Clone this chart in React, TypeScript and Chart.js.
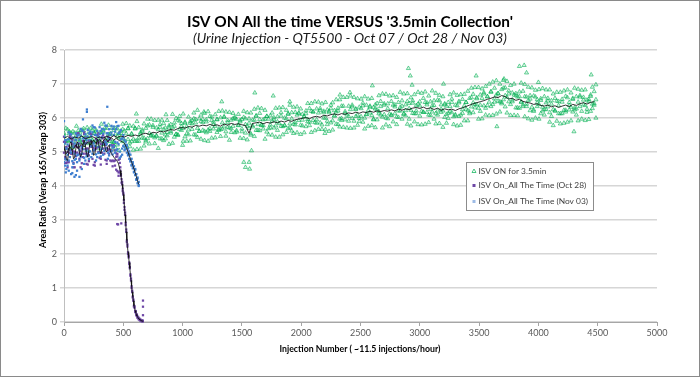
import React, { useEffect, useRef } from "react";
import { Chart, registerables } from "chart.js";
Chart.register(...registerables);

const TITLE = "ISV ON All the time VERSUS '3.5min Collection'";
const SUBTITLE = "(Urine Injection - QT5500 - Oct 07 / Oct 28 / Nov 03)";
const Y_TITLE = "Area Ratio (Verap 165/Verap 303)";
const X_TITLE = "Injection Number ( ~11.5 injections/hour)";
const LEGEND_LABELS = ["ISV ON for 3.5min", "ISV On_All The Time (Oct 28)", "ISV On_All The Time (Nov 03)"];

const X_MIN = 0, X_MAX = 5000, X_STEP = 500;
const Y_MIN = 0, Y_MAX = 8, Y_STEP = 1;

// ---- Series 1: ISV ON for 3.5min (green triangles) ----
const greenX = [
  0,30,60,90,120,150,180,210,240,270,
  300,330,360,390,420,450,480,510,540,570,
  600,630,660,690,720,750,780,810,840,870,
  900,930,960,990,1020,1050,1080,1110,1140,1170,
  1200,1230,1260,1290,1320,1350,1380,1410,1440,1470,
  1500,1530,1560,1590,1620,1650,1680,1710,1740,1770,
  1800,1830,1860,1890,1920,1950,1980,2010,2040,2070,
  2100,2130,2160,2190,2220,2250,2280,2310,2340,2370,
  2400,2430,2460,2490,2520,2550,2580,2610,2640,2670,
  2700,2730,2760,2790,2820,2850,2880,2910,2940,2970,
  3000,3030,3060,3090,3120,3150,3180,3210,3240,3270,
  3300,3330,3360,3390,3420,3450,3480,3510,3540,3570,
  3600,3630,3660,3690,3720,3750,3780,3810,3840,3870,
  3900,3930,3960,3990,4020,4050,4080,4110,4140,4170,
  4200,4230,4260,4290,4320,4350,4380,4410,4440,4470
];
const greenXb = [
  15,45,75,105,135,165,195,225,255,285,
  315,345,375,405,435,465,495,525,555,585,
  615,645,675,705,735,765,795,825,855,885,
  915,945,975,1005,1035,1065,1095,1125,1155,1185,
  1215,1245,1275,1305,1335,1365,1395,1425,1455,1485,
  1515,1545,1575,1605,1635,1665,1695,1725,1755,1785,
  1815,1845,1875,1905,1935,1965,1995,2025,2055,2085,
  2115,2145,2175,2205,2235,2265,2295,2325,2355,2385,
  2415,2445,2475,2505,2535,2565,2595,2625,2655,2685,
  2715,2745,2775,2805,2835,2865,2895,2925,2955,2985,
  3015,3045,3075,3105,3135,3165,3195,3225,3255,3285,
  3315,3345,3375,3405,3435,3465,3495,3525,3555,3585,
  3615,3645,3675,3705,3735,3765,3795,3825,3855,3885,
  3915,3945,3975,4005,4035,4065,4095,4125,4155,4185,
  4215,4245,4275,4305,4335,4365,4395,4425,4455,4485
];
const greenA = [
  5.55,5.34,5.43,5.24,5.63,5.42,5.49,5.25,5.65,5.32,
  5.36,5.63,5.31,5.52,5.28,5.68,5.42,5.62,5.37,5.52,
  5.70,5.32,5.61,5.30,5.80,5.48,5.71,5.39,5.84,5.58,
  5.56,5.86,5.51,5.84,5.45,6.03,5.67,5.96,5.61,5.87,
  5.95,5.69,5.88,5.58,6.01,5.74,5.93,5.58,6.03,5.79,
  5.68,5.98,5.70,5.94,5.64,6.14,5.78,6.05,5.71,5.95,
  6.04,5.76,6.00,5.69,6.16,5.87,6.13,5.77,6.21,5.88,
  5.93,6.27,5.86,6.20,5.81,6.38,6.06,6.29,5.99,6.19,
  6.35,5.99,6.27,5.90,6.44,6.10,6.35,5.95,6.43,6.09,
  6.10,6.42,6.08,6.33,6.02,6.51,6.22,6.43,6.14,6.37,
  6.48,6.17,6.39,6.08,6.51,6.21,6.39,6.02,6.46,6.16,
  6.10,6.49,6.14,6.46,6.13,6.70,6.39,6.68,6.36,6.63,
  6.78,6.47,6.72,6.42,6.89,6.48,6.74,6.30,6.77,6.39,
  6.34,6.66,6.24,6.54,6.13,6.63,6.33,6.51,6.21,6.37,
  6.55,6.23,6.46,6.18,6.63,6.34,6.61,6.17,6.68,6.38
];
const greenB = [
  5.26,5.66,5.35,5.56,5.19,5.64,5.29,5.48,5.27,5.65,
  5.56,5.23,5.70,5.32,5.64,5.21,5.55,5.19,5.69,5.31,
  5.32,5.72,5.41,5.70,5.24,5.78,5.48,5.73,5.34,5.93,
  5.81,5.44,5.94,5.64,5.88,5.51,5.83,5.50,5.98,5.64,
  5.57,6.05,5.68,5.96,5.46,6.04,5.73,5.94,5.57,6.11,
  5.96,5.56,5.98,5.78,6.06,5.63,5.95,5.59,6.07,5.71,
  5.64,6.16,5.78,6.11,5.62,6.17,5.93,6.11,5.75,6.28,
  6.18,5.85,6.28,6.00,6.24,5.86,6.22,5.81,6.35,5.95,
  5.91,6.38,6.05,6.32,5.88,6.38,6.15,6.31,5.95,6.49,
  6.38,5.98,6.49,6.13,6.46,5.97,6.39,5.97,6.51,6.13,
  6.06,6.58,6.17,6.48,5.97,6.53,6.17,6.39,5.99,6.56,
  6.38,6.05,6.55,6.26,6.58,6.16,6.57,6.20,6.75,6.37,
  6.34,6.88,6.50,6.84,6.33,6.80,6.53,6.66,6.29,6.79,
  6.62,6.22,6.65,6.34,6.57,6.09,6.50,6.05,6.58,6.13,
  6.13,6.64,6.24,6.58,6.09,6.66,6.39,6.53,6.20,6.78
];
const greenC = [
  5.70,5.13,5.60,5.36,5.56,5.19,5.72,5.41,5.55,5.10,
  5.12,5.71,5.41,5.70,5.12,5.55,5.82,5.14,5.77,5.06,
  5.90,5.09,5.83,5.40,5.97,5.25,5.94,5.56,5.71,5.23,
  5.26,5.99,5.67,6.12,5.32,5.90,6.15,5.43,6.09,5.34,
  6.19,5.41,6.10,5.68,6.21,5.47,6.17,5.76,5.96,5.41,
  6.20,5.36,6.15,5.46,6.30,5.78,6.23,5.51,6.15,5.44,
  5.44,6.31,5.58,6.38,5.55,6.33,5.52,6.04,6.43,5.58,
  6.48,5.67,6.42,5.66,6.16,5.65,6.54,5.74,6.61,5.71,
  5.70,6.61,5.79,6.56,5.68,6.56,5.78,6.27,6.66,5.71,
  6.70,5.75,6.66,5.81,6.76,6.13,6.72,5.77,6.69,5.81,
  5.80,6.77,5.87,6.80,5.83,6.67,5.73,6.35,6.69,5.81,
  6.67,5.79,6.70,5.92,6.88,6.30,6.90,5.98,6.93,6.07,
  6.08,7.10,6.18,7.11,6.15,6.96,6.08,6.62,7.03,6.04,
  6.91,5.94,6.82,5.97,6.87,6.25,6.83,5.78,6.76,5.83,
  5.85,6.83,5.92,6.88,5.92,6.82,5.93,6.49,6.91,6.00
];
const greenD = [
  5.10,5.54,5.13,5.76,5.35,5.62,5.04,5.70,5.30,5.45,
  5.82,5.31,5.79,5.07,5.53,5.05,5.67,5.84,5.16,5.76,
  5.08,5.57,5.18,5.97,5.47,5.93,5.11,5.94,5.39,5.71,
  6.11,5.52,6.05,5.32,5.75,5.33,5.98,6.23,5.38,6.14,
  5.32,5.93,5.42,6.20,5.68,6.18,5.35,6.14,5.59,5.93,
  5.40,6.16,5.50,6.26,5.81,6.28,5.38,5.97,5.50,6.29,
  6.30,5.51,6.23,5.83,6.32,5.57,6.27,5.57,5.96,6.43,
  5.63,6.47,5.67,6.46,5.61,6.45,5.82,6.54,5.73,6.61,
  6.65,5.71,6.57,6.04,6.63,5.76,6.58,5.72,6.13,6.71,
  5.80,6.65,5.89,6.61,6.21,6.71,5.82,6.60,5.89,6.76,
  6.73,5.82,6.65,6.18,6.73,5.84,6.63,5.85,6.19,6.74,
  5.77,6.69,5.92,6.79,6.33,6.90,5.97,6.86,6.09,7.00,
  7.06,6.12,7.00,6.54,7.08,6.08,7.00,6.07,6.47,6.99,
  5.98,6.89,6.00,6.84,6.32,6.83,5.88,6.71,5.91,6.76,
  6.80,5.88,6.74,6.30,6.85,5.97,6.83,5.96,6.41,6.98
];
const greenE = [
  5.48,5.31,5.56,5.39,5.53,5.27,5.42,5.58,5.35,5.60,
  5.29,5.59,5.41,5.54,5.28,5.46,5.62,5.34,5.69,5.54,
  5.68,5.42,5.65,5.35,5.55,5.73,5.46,5.81,5.67,5.48,
  5.61,5.76,5.49,5.75,5.85,5.65,5.93,5.86,5.61,5.97,
  5.89,5.61,5.81,5.95,5.66,6.02,5.87,5.69,5.99,5.78,
  5.60,5.81,5.85,5.74,6.06,5.96,5.68,6.05,5.80,6.01,
  5.89,6.06,5.78,6.13,5.98,5.80,6.15,5.94,6.13,5.78,
  6.18,5.95,6.22,6.16,5.91,6.28,6.07,6.21,5.93,6.14,
  6.05,6.33,6.25,5.99,6.36,6.11,6.32,5.97,6.24,6.34,
  6.42,6.28,6.09,6.39,6.21,6.35,6.07,6.28,6.44,6.21,
  6.36,6.17,6.45,6.25,6.37,6.09,6.26,6.42,6.14,6.46,
  6.07,6.45,6.25,6.46,6.18,6.45,6.60,6.38,6.71,6.63,
  6.76,6.57,6.72,6.46,6.66,6.71,6.48,6.72,6.63,6.34,
  6.41,6.56,6.20,6.45,6.52,6.25,6.58,6.41,6.21,6.49,
  6.47,6.18,6.37,6.55,6.27,6.62,6.53,6.26,6.64,6.43
];
const greenF = [
  5.32,5.60,5.20,5.50,5.29,5.69,5.37,5.27,5.55,5.18,
  5.58,5.23,5.52,5.30,5.70,5.41,5.31,5.54,5.27,5.38,
  5.32,5.53,5.41,5.77,5.50,5.42,5.66,5.39,5.51,5.77,
  5.72,5.52,5.91,5.70,5.54,5.85,5.51,5.70,5.90,5.61,
  5.65,6.03,5.76,5.64,5.86,5.60,5.71,5.98,5.63,5.89,
  6.02,5.76,5.54,5.94,5.64,5.80,5.97,5.69,5.91,5.77,
  5.84,5.75,5.98,5.71,5.82,6.09,5.79,6.05,5.89,6.20,
  5.87,6.15,5.80,6.00,6.20,5.92,6.18,5.97,6.35,6.09,
  6.25,5.91,6.09,6.28,6.00,6.22,6.08,6.39,6.19,6.03,
  6.00,6.12,6.38,6.03,6.32,6.11,6.49,6.23,6.13,6.41,
  6.20,6.46,6.09,6.36,6.13,6.51,6.21,6.11,6.34,6.04,
  6.36,6.09,6.36,6.22,6.60,6.40,6.29,6.58,6.29,6.47,
  6.40,6.68,6.48,6.88,6.61,6.40,6.68,6.30,6.47,6.63,
  6.52,6.32,6.62,6.40,6.21,6.45,6.16,6.25,6.50,6.13,
  6.23,6.60,6.32,6.24,6.47,6.20,6.37,6.55,6.28,6.54
];
const greenOutX = [610,860,1000,1180,1330,1516,1530,1561,1565,1581,1609,1764,1904,2200,2327,2411,2600,2904,2920,2935,3200,3475,3650,3710,3840,3880,3900,4000,4300,4445];
const greenOutY = [6.12,6.10,5.20,6.18,6.48,4.70,4.55,4.70,4.50,5.04,6.74,6.65,6.48,5.55,6.68,6.75,6.95,7.46,7.24,6.97,7.00,7.24,5.75,7.15,7.52,7.55,7.33,7.05,5.60,7.27];
const greenTrend = [
  5.40,5.46,5.38,5.44,5.41,5.47,5.39,5.43,5.45,5.40,
  5.44,5.41,5.46,5.42,5.48,5.43,5.47,5.44,5.49,5.46,
  5.50,5.47,5.53,5.55,5.52,5.58,5.56,5.61,5.59,5.63,
  5.66,5.64,5.69,5.72,5.70,5.75,5.73,5.78,5.76,5.79,
  5.77,5.81,5.78,5.80,5.76,5.82,5.79,5.84,5.81,5.83,
  5.80,5.78,5.55,5.84,5.86,5.88,5.83,5.87,5.85,5.89,
  5.86,5.91,5.88,5.93,5.90,5.95,5.97,5.99,6.01,5.98,
  6.03,6.05,6.02,6.08,6.06,6.10,6.12,6.09,6.13,6.11,
  6.15,6.13,6.17,6.14,6.18,6.16,6.20,6.17,6.21,6.19,
  6.22,6.20,6.24,6.21,6.26,6.23,6.27,6.25,6.29,6.31,
  6.28,6.32,6.27,6.30,6.25,6.29,6.23,6.27,6.24,6.26,
  6.22,6.27,6.30,6.34,6.38,6.42,6.45,6.48,6.51,6.55,
  6.58,6.62,6.60,6.66,6.63,6.56,6.58,6.52,6.55,6.49,
  6.46,6.44,6.40,6.42,6.37,6.35,6.38,6.33,6.36,6.31,
  6.35,6.38,6.34,6.40,6.37,6.42,6.45,6.41,6.46,6.48
];

// ---- Series 2: ISV On_All The Time (Oct 28) (purple squares) ----
const purpleX = [0,10,20,30,40,50,60,70,80,90,100,110,120,130,140,150,160,170,180,190,200,210,220,230,240,250,260,270,280,290,300,310,320,330,340,350,360,370,380,390,400,410,420,430,440,450,460,470];
const purpleA = [5.45,4.85,5.10,4.55,5.18,4.97,5.42,5.35,4.55,5.00,5.35,5.15,5.55,4.80,5.03,4.67,5.32,5.58,4.95,5.10,5.10,4.90,5.55,5.15,5.28,4.62,5.07,5.50,5.13,5.45,5.30,4.80,5.40,5.10,5.43,4.77,5.12,5.45,4.95,5.20,5.20,4.75,5.15,4.60,4.96,4.44,4.77,4.80];
const purpleB = [4.98,5.28,4.68,5.00,4.70,5.40,5.05,4.95,5.02,4.55,4.88,5.52,5.13,5.25,4.55,5.10,4.95,5.25,5.42,4.65,4.63,5.33,5.18,5.52,4.80,5.05,4.70,5.10,5.50,5.00,4.83,5.23,4.98,5.50,4.95,5.20,4.75,5.05,5.42,4.75,4.73,5.18,4.73,5.05,4.48,4.87,4.40,4.40];
const purpleC = [5.30,4.68,5.15,4.70,5.08,5.47,4.95,5.23,4.68,5.17,5.20,4.98,5.55,4.95,4.93,5.17,4.85,5.53,5.08,5.27,4.95,4.73,5.55,5.30,5.18,5.12,4.60,5.38,5.26,5.55,5.15,4.63,5.45,5.25,5.33,5.27,4.65,5.33,5.08,5.37,5.05,4.58,5.20,4.75,4.86,4.94,4.30,4.68];
const purpleTrend = [5.20,5.00,4.80,4.75,5.00,5.25,5.30,5.05,4.80,4.85,5.10,5.30,5.25,5.00,4.85,4.95,5.20,5.35,5.20,4.95,4.85,5.05,5.30,5.35,5.10,4.90,4.95,5.20,5.38,5.30,5.05,4.95,5.10,5.30,5.25,5.05,5.00,5.15,5.20,5.05,4.95,4.90,4.85,4.80,4.78,4.72,4.65,4.50];
const dropX = [475,480,485,490,495,500,505,510,515,520,525,530,535,540,545,550,555,560,565,570,575,580,585,590,595,600,605,610,615,620,625,630,635,640,645,650,655,660,665];
const dropA = [4.45,4.30,4.20,4.05,3.92,3.75,3.58,3.38,3.15,2.92,2.65,2.40,2.22,2.05,1.90,1.75,1.58,1.40,1.22,1.05,0.88,0.75,0.62,0.48,0.42,0.33,0.28,0.22,0.18,0.15,0.12,0.10,0.08,0.06,0.05,0.04,0.03,0.03,0.02];
const dropB = [4.55,4.35,4.10,4.12,3.85,3.80,3.50,3.30,3.22,2.85,2.72,2.35,2.28,2.00,1.95,1.70,1.62,1.36,1.28,1.00,0.92,0.72,0.66,0.45,0.46,0.30,0.32,0.20,0.22,0.12,0.15,0.08,0.10,0.05,0.07,0.03,0.05,0.02,0.04];
const purpleOutX = [449,456,483,666,666,666];
const purpleOutY = [2.88,2.87,2.90,0.63,0.45,0.20];

// ---- Series 3: ISV On_All The Time (Nov 03) (blue squares) ----
const blueX = [0,10,20,30,40,50,60,70,80,90,100,110,120,130,140,150,160,170,180,190,200,210,220,230,240,250,260,270,280,290,300,310,320,330,340,350,360,370,380,390,400,410,420,430,440,450,460,470,480,490,500,510,520,530,540,550,560,570,580,590,600,610,620,630];
const blueA = [5.45,4.80,5.10,4.60,5.38,5.05,5.52,4.73,5.15,4.95,5.55,4.90,5.25,4.75,5.48,5.15,5.62,4.83,5.25,5.05,5.65,5.00,5.35,4.85,5.58,5.25,5.72,4.93,5.35,5.15,5.73,5.07,5.43,4.92,5.66,5.30,5.77,4.98,5.40,5.20,5.77,5.13,5.50,4.98,5.68,5.28,5.77,5.01,5.37,5.10,5.50,5.05,5.30,4.98,5.10,4.80,4.92,4.60,4.70,4.40,4.50,4.18,4.25,4.00];
const blueB = [4.70,5.35,4.77,5.22,4.75,5.53,4.98,5.30,4.65,5.25,4.80,5.45,4.92,5.37,4.85,5.63,5.08,5.40,4.75,5.35,4.90,5.55,5.02,5.47,4.95,5.73,5.18,5.50,4.85,5.45,4.98,5.62,5.10,5.54,5.03,5.78,5.23,5.55,4.90,5.50,5.02,5.68,5.17,5.60,5.05,5.76,5.23,5.58,4.87,5.40,5.18,5.35,5.08,5.20,4.90,5.02,4.72,4.80,4.52,4.58,4.32,4.35,4.08,4.12];
const blueC = [5.25,4.60,5.35,4.92,5.58,4.85,5.30,4.55,5.42,4.77,5.35,4.70,5.50,5.07,5.68,4.95,5.40,4.65,5.52,4.87,5.45,4.80,5.60,5.17,5.78,5.05,5.50,4.75,5.62,4.97,5.53,4.87,5.68,5.24,5.86,5.10,5.55,4.80,5.67,5.02,5.57,4.93,5.75,5.30,5.88,5.08,5.55,4.83,5.64,4.92,5.43,5.15,5.22,5.18,4.92,4.95,4.75,4.62,4.65,4.42,4.48,4.20,4.22,4.03];
const blueTrend = [5.10,5.05,4.95,5.00,5.10,5.15,5.10,5.05,5.10,5.15,5.20,5.15,5.10,5.15,5.20,5.25,5.20,5.15,5.20,5.25,5.30,5.25,5.20,5.25,5.30,5.35,5.30,5.25,5.30,5.35,5.38,5.32,5.28,5.32,5.38,5.40,5.35,5.30,5.35,5.40,5.42,5.38,5.35,5.38,5.40,5.38,5.35,5.33,5.32,5.30,5.28,5.25,5.18,5.10,5.00,4.90,4.80,4.70,4.60,4.50,4.40,4.28,4.15,4.05];
const blueOutX = [0,15,20,40,60,70,88,100,110,130,150,160,193,193,365];
const blueOutY = [5.91,4.40,4.50,4.45,4.35,4.38,4.27,4.32,4.45,4.27,4.50,5.96,6.25,6.18,6.33];

const FONT = "Lato, 'Open Sans', sans-serif";
const GREEN_EDGE = "rgba(0,176,80,0.7)";
const GREEN_FILL = "rgba(0,176,80,0.15)";
const PURPLE = "#6e47a6";
const BLUE = "#3f7fd0";
const TREND = "rgba(15,15,15,0.85)";

function pts(xs: number[], ys: number[]) {
  return xs.map((x, i) => ({ x, y: ys[i] }));
}

function fitFont(ctx: CanvasRenderingContext2D, text: string, style: string, target: number, base: number) {
  ctx.font = `${style} ${base}px ${FONT}`;
  const w = ctx.measureText(text).width;
  const size = (base * target) / w;
  ctx.font = `${style} ${size}px ${FONT}`;
}

const decor = {
  id: "decor",
  beforeDraw(chart: any) {
    const ctx = chart.ctx;
    ctx.save();
    ctx.fillStyle = "#ffffff";
    ctx.fillRect(0, 0, chart.width, chart.height);
    ctx.restore();
  },
  afterDraw(chart: any) {
    const ctx: CanvasRenderingContext2D = chart.ctx;
    ctx.save();
    ctx.textAlign = "center";
    ctx.textBaseline = "middle";
    ctx.fillStyle = "#000000";
    fitFont(ctx, TITLE, "normal bold", 326, 16);
    ctx.fillText(TITLE, 350, 22);
    fitFont(ctx, SUBTITLE, "italic normal", 314, 13);
    ctx.fillStyle = "#1a1a1a";
    ctx.fillText(SUBTITLE, 350, 38);

    ctx.fillStyle = "#000000";
    fitFont(ctx, X_TITLE, "normal bold", 161, 9);
    ctx.fillText(X_TITLE, 360, 349);

    ctx.save();
    ctx.translate(43, 180);
    ctx.rotate(-Math.PI / 2);
    fitFont(ctx, Y_TITLE, "normal bold", 136, 9);
    ctx.fillText(Y_TITLE, 0, 0);
    ctx.restore();

    // legend
    const lx = 466.5, ly = 162.5, lw = 127, lh = 48;
    ctx.fillStyle = "#ffffff";
    ctx.fillRect(lx, ly, lw, lh);
    ctx.strokeStyle = "#8c8c8c";
    ctx.lineWidth = 1;
    ctx.strokeRect(lx, ly, lw, lh);
    const rows = [171, 185.5, 201.5];
    ctx.strokeStyle = GREEN_EDGE;
    ctx.beginPath();
    ctx.moveTo(474, 169);
    ctx.lineTo(476, 172.5);
    ctx.lineTo(472, 172.5);
    ctx.closePath();
    ctx.stroke();
    ctx.fillStyle = PURPLE;
    ctx.fillRect(472.5, rows[1] - 1.5, 3, 3);
    ctx.fillStyle = "#9dbbe6";
    ctx.fillRect(472.5, rows[2] - 1.5, 3, 3);
    ctx.fillStyle = "#404040";
    ctx.textAlign = "left";
    fitFont(ctx, LEGEND_LABELS[0], "normal normal", 68, 9);
    const fs = ctx.font;
    LEGEND_LABELS.forEach((t, i) => {
      ctx.font = fs;
      ctx.fillText(t, 478.5, rows[i]);
    });

    // outer border
    ctx.strokeStyle = "#8a8a8a";
    ctx.lineWidth = 1;
    ctx.strokeRect(0.5, 0.5, chart.width - 1, chart.height - 1);
    ctx.restore();
  },
};

export default function App() {
  const ref = useRef<HTMLCanvasElement | null>(null);
  useEffect(() => {
    if (!ref.current) return;
    const tickFont = { family: FONT, size: 9 };
    const chart = new Chart(ref.current, {
      type: "scatter",
      data: {
        datasets: [
          {
            label: "green trend",
            data: pts(greenX, greenTrend),
            showLine: true,
            borderColor: TREND,
            borderWidth: 1,
            pointRadius: 0,
            order: 1,
          },
          {
            label: "purple trend",
            data: [...pts(purpleX, purpleTrend), ...pts(dropX, dropA)],
            showLine: true,
            borderColor: TREND,
            borderWidth: 1,
            pointRadius: 0,
            order: 1,
          },
          {
            label: "blue trend",
            data: pts(blueX, blueTrend),
            showLine: true,
            borderColor: TREND,
            borderWidth: 1,
            pointRadius: 0,
            order: 1,
          },
          {
            label: LEGEND_LABELS[2],
            data: [
              ...pts(blueX, blueA),
              ...pts(blueX, blueB),
              ...pts(blueX, blueC),
              ...pts(blueOutX, blueOutY),
            ],
            pointStyle: "rect",
            pointRadius: 1.6,
            pointBorderWidth: 0,
            backgroundColor: BLUE,
            borderColor: BLUE,
            order: 3,
          },
          {
            label: LEGEND_LABELS[1],
            data: [
              ...pts(purpleX, purpleA),
              ...pts(purpleX, purpleB),
              ...pts(purpleX, purpleC),
              ...pts(dropX, dropA),
              ...pts(dropX, dropB),
              ...pts(purpleOutX, purpleOutY),
            ],
            pointStyle: "rect",
            pointRadius: 1.6,
            pointBorderWidth: 0,
            backgroundColor: PURPLE,
            borderColor: PURPLE,
            clip: false as any,
            order: 4,
          },
          {
            label: LEGEND_LABELS[0],
            data: [
              ...pts(greenX, greenA),
              ...pts(greenX, greenB),
              ...pts(greenXb, greenC),
              ...pts(greenXb, greenD),
              ...pts(greenX, greenE),
              ...pts(greenXb, greenF),
              ...pts(greenOutX, greenOutY),
            ],
            pointStyle: "triangle",
            pointRadius: 2.4,
            pointBorderWidth: 0.8,
            backgroundColor: GREEN_FILL,
            borderColor: GREEN_EDGE,
            order: 5,
          },
        ],
      },
      options: {
        responsive: false,
        animation: false,
        events: [],
        layout: { padding: { left: 0, top: 50, right: 43, bottom: 0 } },
        plugins: {
          legend: { display: false },
          tooltip: { enabled: false },
          title: { display: false },
        },
        scales: {
          x: {
            type: "linear",
            min: X_MIN,
            max: X_MAX,
            ticks: {
              stepSize: X_STEP,
              font: tickFont,
              color: "#595959",
              padding: 2,
              maxRotation: 0,
              callback: (v: any) => String(v),
            },
            grid: { drawOnChartArea: false, drawTicks: true, tickLength: 4, color: "#a6a6a6" },
            border: { color: "#a6a6a6" },
            afterFit: (s: any) => {
              s.height = 55;
            },
          },
          y: {
            type: "linear",
            min: Y_MIN,
            max: Y_MAX,
            ticks: { stepSize: Y_STEP, font: tickFont, color: "#595959", padding: 3, callback: (v: any) => String(v) },
            grid: { color: "#d6d6d6", lineWidth: 1.5, tickLength: 4 },
            border: { color: "#bfbfbf" },
            afterFit: (s: any) => {
              s.width = 64;
            },
          },
        },
      },
      plugins: [decor],
    });
    return () => chart.destroy();
  }, []);
  return (
    <div style={{ position: "absolute", left: 0, top: 0, width: 700, height: 377 }}>
      <canvas ref={ref} width={700} height={377} style={{ width: 700, height: 377, display: "block" }} />
    </div>
  );
}
